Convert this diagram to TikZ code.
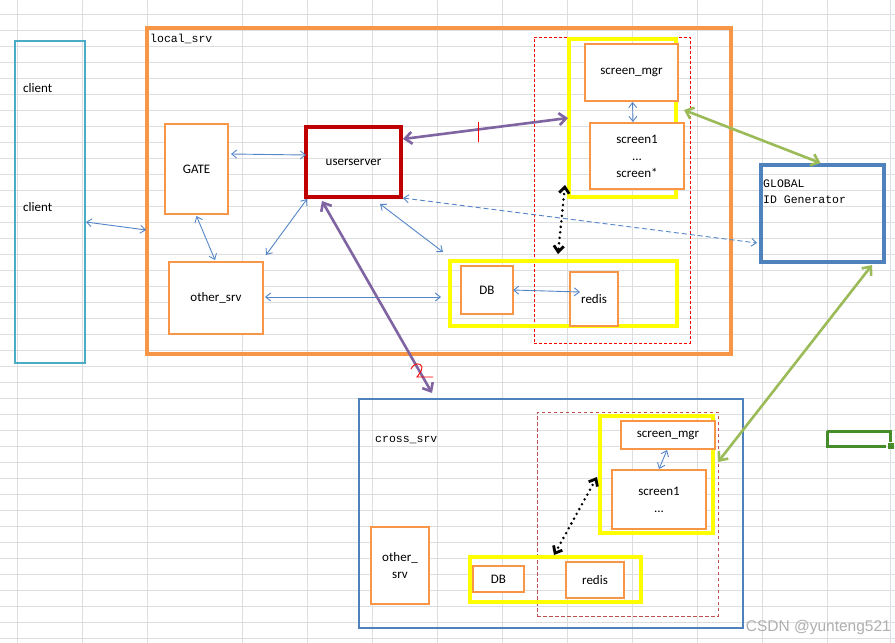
\documentclass[tikz,border=0pt]{standalone}
\usepackage{fontspec}
\setmainfont{Carlito}
\newfontfamily\monofont{Liberation Mono}
\newfontfamily\wmfont{Liberation Sans}
\usetikzlibrary{arrows.meta,calc}
\definecolor{cOrange}{RGB}{247,150,70}
\definecolor{cDarkRed}{RGB}{192,0,0}
\definecolor{cCyan}{RGB}{75,172,198}
\definecolor{cBlue}{RGB}{79,129,189}
\definecolor{cThinBlue}{RGB}{85,135,200}
\definecolor{cPurple}{RGB}{128,100,162}
\definecolor{cGreenA}{RGB}{155,187,89}
\definecolor{cYellow}{RGB}{255,255,0}
\definecolor{cRedDash}{RGB}{255,0,0}
\definecolor{cRedDashB}{RGB}{192,80,77}
\definecolor{cCell}{RGB}{70,140,40}
\definecolor{cGrid}{RGB}{220,222,223}
\definecolor{cWm}{RGB}{175,175,175}
\begin{document}
\begin{tikzpicture}[x=1pt,y=-1pt,
  lbl/.style={font=\fontsize{13}{17}\selectfont, text=black},
  mono/.style={font=\monofont\fontsize{11.5}{16}\selectfont, text=black, inner sep=0pt},
  plainbox/.style={inner sep=0pt, outer sep=0pt},
  obox/.style={plainbox, draw=cOrange, line width=2pt, fill=white, lbl, align=center},
  ybox/.style={plainbox, draw=cYellow, line width=4pt},
  rdash/.style={plainbox, draw=cRedDash, line width=0.9pt, dash pattern=on 3pt off 2pt},
  rdashb/.style={plainbox, draw=cRedDashB, line width=0.9pt, dash pattern=on 3.5pt off 2.5pt},
  thintip/.tip={Straight Barb[length=5pt,width=8pt]},
  barrow/.style={draw=cThinBlue, line width=0.9pt, thintip-thintip},
  bdash/.style={draw=cThinBlue, line width=0.9pt, dash pattern=on 5pt off 3pt, thintip-thintip},
  bigtip/.tip={Straight Barb[length=7pt,width=12pt]},
  parrow/.style={draw=cPurple, line width=2.6pt, bigtip-bigtip},
  garrow/.style={draw=cGreenA, line width=2.6pt, bigtip-bigtip},
  dottip/.tip={Straight Barb[length=6pt,width=10pt]},
  karrow/.style={draw=black, line width=2.8pt, line cap=round, dash pattern=on 0pt off 5.5pt, dottip-dottip},
]
\useasboundingbox (0,0) rectangle (895,643);
\fill[white] (0,0) rectangle (895,643);

% spreadsheet grid
\foreach \gx in {17,82,147,242,307,372,437,502,567,632,697,762,827,890}
  \draw[cGrid, line width=1pt] (\gx,0) -- (\gx,643);
\foreach \k in {0,...,39}
  \draw[cGrid, line width=1pt] (0,14+16*\k) -- (895,14+16*\k);

% client
\node[plainbox, draw=cCyan, line width=2pt, minimum width=70pt, minimum height=322pt] (client) at (50,202) {};
\node[lbl, anchor=west, inner sep=0pt] (cl1) at (23,88) {client};
\node[lbl, anchor=west, inner sep=0pt] (cl2) at (23,207) {client};

% local_srv
\node[plainbox, draw=cOrange, line width=4pt, minimum width=584pt, minimum height=326pt] (local) at (439,191) {};
\node[mono, anchor=north west] (locallbl) at (150,34) {local\_srv};

% red dashed group (local)
\node[rdash, minimum width=156pt, minimum height=306pt] (rd) at (612,190) {};
% yellow groups (local)
\node[ybox, minimum width=107pt, minimum height=158pt] (yscr) at (622.5,118) {};
\node[ybox, minimum width=227pt, minimum height=65pt] (ydb) at (563.5,293.5) {};

% orange boxes (local)
\node[obox, minimum width=63pt, minimum height=90pt] (gate) at (196.5,169) {GATE};
\node[obox, minimum width=94pt, minimum height=72pt] (other) at (216,298) {other\_srv};
\node[obox, minimum width=52pt, minimum height=48pt] (db) at (487,290) {DB};
\node[obox, minimum width=48pt, minimum height=54pt] (redis) at (594,299) {redis};
\node[obox, minimum width=93pt, minimum height=57pt] (smgr) at (631.5,72.5) {screen\_mgr};
\node[obox, minimum width=94pt, minimum height=66pt] (scr1) at (637,156) {screen1\\...\\screen*};

% userserver
\node[plainbox, draw=cDarkRed, line width=4pt, minimum width=95pt, minimum height=70pt, lbl] (user) at (353.5,162) {userserver};

% GLOBAL ID Generator
\node[plainbox, draw=cBlue, line width=4pt, minimum width=123pt, minimum height=97pt] (glob) at (822.5,213.5) {};
\node[mono, anchor=west] (glob1) at (763,184) {GLOBAL};
\node[mono, anchor=west] (glob2) at (763,200) {ID Generator};

% cross_srv
\node[plainbox, draw=cBlue, line width=2pt, minimum width=384pt, minimum height=229pt] (cross) at (551,513.5) {};
\node[mono, anchor=west] (crosslbl) at (375,440) {cross\_srv};
\node[rdashb, minimum width=181pt, minimum height=204pt] (crd) at (627.5,514) {};
\node[ybox, minimum width=113pt, minimum height=117pt] (cyscr) at (656.5,474.5) {};
\node[ybox, minimum width=171pt, minimum height=45pt] (cydb) at (555.5,579.5) {};
\node[obox, minimum width=94pt, minimum height=28pt] (csmgr) at (668,435) {screen\_mgr};
\node[obox, minimum width=94pt, minimum height=59pt] (cscr1) at (659,499.5) {screen1\\...};
\node[obox, minimum width=51pt, minimum height=26pt] (cdb) at (498.5,579) {DB};
\node[obox, minimum width=58pt, minimum height=36pt] (credis) at (595,580) {redis};
\node[obox, minimum width=58pt, minimum height=77pt] (cother) at (400,565.5) {other\_\\srv};

% selected cell
\draw[cCell, line width=3pt] (827,431) -- (890,431) -- (890,442);
\draw[cCell, line width=3pt] (827,431) -- (827,446) -- (886,446);
\fill[cCell] (888,443) rectangle (894,449);

% thin blue connectors
\draw[barrow] ([xshift=1pt,yshift=-20pt]client.east) -- ([xshift=-1pt,yshift=-39pt]local.west);
\draw[barrow] ([xshift=3pt,yshift=15pt]gate.east) -- ([yshift=7pt]user.west);
\draw[barrow] ([yshift=-2pt]gate.south) -- ([xshift=-1pt,yshift=2pt]other.north);
\draw[barrow] ([xshift=3pt,yshift=7pt]other.north east) -- ([xshift=1pt,yshift=-2pt]user.south west);
\draw[barrow] ([xshift=-21pt,yshift=-7pt]user.south east) -- ([xshift=-7pt,yshift=9pt]ydb.north west);
\draw[barrow] ([xshift=2pt,yshift=1pt]other.east) -- ([xshift=-9pt,yshift=-3.5pt]ydb.west);
\draw[barrow] (db.east) -- ([xshift=10pt,yshift=7pt]redis.west);
\draw[barrow] ([xshift=1pt,yshift=-1pt]smgr.south) -- ([xshift=-4pt,yshift=1pt]scr1.north);
\draw[barrow] ([xshift=-1pt,yshift=-1pt]csmgr.south) -- ([yshift=1pt]cscr1.north);
\draw[bdash] ([xshift=2pt,yshift=-1pt]user.south east) -- ([xshift=-4pt,yshift=-29.5pt]glob.west);

% purple connectors
\draw[parrow] ([xshift=2pt,yshift=-12pt]user.north east) -- ([xshift=-1pt]yscr.west);
\draw[parrow] ([xshift=16pt,yshift=-4pt]user.south west) -- ([xshift=73pt,yshift=6pt]cross.north west);

% green connectors
\draw[garrow] ([xshift=8pt,yshift=8pt]yscr.east) -- ([xshift=-2pt,yshift=2pt]glob.north);
\draw[garrow] ([xshift=-12pt,yshift=-3pt]glob.south east) -- ([xshift=5pt,yshift=12.5pt]cyscr.east);

% black dotted connectors
\draw[karrow] ([xshift=-4pt,yshift=12pt]yscr.south west) -- ([xshift=-5.5pt,yshift=7pt]ydb.north);
\draw[karrow] ([xshift=-3pt,yshift=-2.5pt]cyscr.west) -- ([xshift=-1.5pt,yshift=2pt]cydb.north);

% red hand marks
\draw[cRedDash, line width=0.9pt] (478,122) -- (478,142);
\draw[cRedDash, line width=0.9pt] (411,369) .. controls (413,363) and (421,362) .. (422,367)
  .. controls (422,371) and (419,374) .. (417,377) -- (433,377);

% watermark
\node[font=\wmfont\fontsize{15.5}{18}\selectfont, text=cWm, anchor=east, inner sep=0pt] (wm) at (891,627) {CSDN @yunteng521};
\end{tikzpicture}
\end{document}
